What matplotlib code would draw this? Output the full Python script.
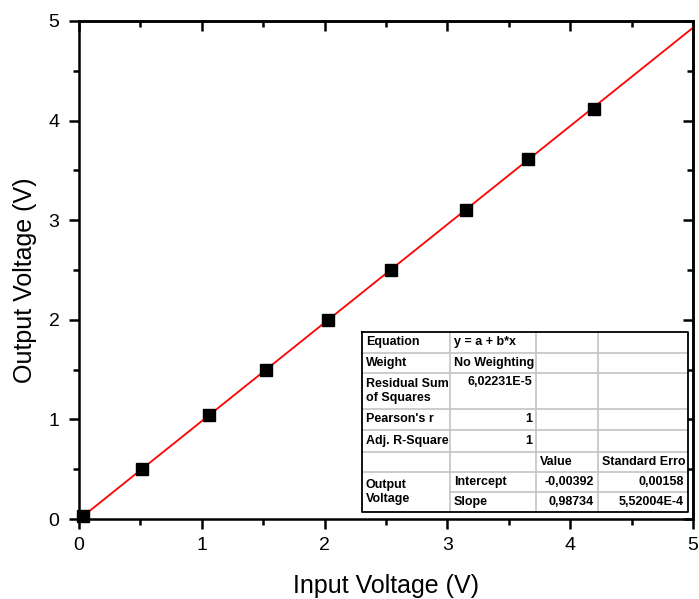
import numpy as np
import matplotlib
matplotlib.use('Agg')
import matplotlib.pyplot as plt
from matplotlib.lines import Line2D
from matplotlib.ticker import MultipleLocator

plt.rcParams['font.family'] = ['Liberation Sans', 'DejaVu Sans']

# measured points
x_in = [0.03, 0.51, 1.06, 1.52, 2.03, 2.54, 3.15, 3.66, 4.19]
y_out = [0.03, 0.50, 1.04, 1.50, 2.00, 2.50, 3.10, 3.61, 4.12]

# linear fit results
intercept = -0.00392
slope = 0.98734
fit_x = [0, 5]

table_rows = [
    ['Equation', 'y = a + b*x', '', ''],
    ['Weight', 'No Weighting', '', ''],
    ['Residual Sum\nof Squares', '6,02231E-5', '', ''],
    ["Pearson's r", '1', '', ''],
    ['Adj. R-Square', '1', '', ''],
    ['', '', 'Value', 'Standard Erro'],
    ['Output\nVoltage', 'Intercept', '-0,00392', '0,00158'],
    ['', 'Slope', '0,98734', '5,52004E-4'],
]

W, H = 699, 599
fig = plt.figure(figsize=(W / 100, H / 100), dpi=100)
ax = fig.add_axes([79 / W, 1 - 519 / H, (693 - 79) / W, (519 - 21) / H])

fx = np.array(fit_x, dtype=float)
ax.plot(fx, intercept + slope * fx, color='red', lw=1.3, zorder=2)
ax.plot(x_in, y_out, 's', color='black', ms=8.5, zorder=3, clip_on=False)

ax.set_xlim(0, 5)
ax.set_ylim(0, 5)
ax.xaxis.set_major_locator(MultipleLocator(1))
ax.xaxis.set_minor_locator(MultipleLocator(0.5))
ax.yaxis.set_major_locator(MultipleLocator(1))
ax.yaxis.set_minor_locator(MultipleLocator(0.5))
for s in ax.spines.values():
    s.set_linewidth(1.8)
ax.tick_params(which='both', direction='out', width=1.8, labelsize=14,
               top=False, right=False)
ax.tick_params(which='major', length=7)
ax.tick_params(which='minor', length=4)
ax.tick_params(axis='y', pad=7)
ax.tick_params(axis='x', pad=6)

# inward ticks on top/right
sec = ax.secondary_xaxis('top')
sec.xaxis.set_major_locator(MultipleLocator(1))
sec.xaxis.set_minor_locator(MultipleLocator(0.5))
sec.tick_params(which='both', direction='in', width=1.8, labeltop=False)
sec.tick_params(which='major', length=7)
sec.tick_params(which='minor', length=4)
sec.spines['top'].set_linewidth(1.8)
secy = ax.secondary_yaxis('right')
secy.yaxis.set_major_locator(MultipleLocator(1))
secy.yaxis.set_minor_locator(MultipleLocator(0.5))
secy.tick_params(which='both', direction='in', width=1.8, labelright=False)
secy.tick_params(which='major', length=7)
secy.tick_params(which='minor', length=4)
secy.spines['right'].set_linewidth(1.8)

ax.set_xlabel('Input Voltage (V)', fontsize=18, labelpad=14)
ax.set_ylabel('Output Voltage (V)', fontsize=18, labelpad=8)
ax.yaxis.label.set_y(0.48)


def fp(x, y):
    return x / W, 1 - y / H


# table geometry in pixels
cols = [362, 450, 536, 598, 688]
rows = [332, 353, 373, 409, 430, 452, 472, 492, 512]

fig.patches.append(plt.Rectangle(fp(cols[0], rows[-1]), (cols[-1] - cols[0]) / W,
                                 (rows[-1] - rows[0]) / H, transform=fig.transFigure,
                                 facecolor='white', edgecolor='none', zorder=4))
gray = '#c4c4c4'
for i, yv in enumerate(rows[1:-1], start=1):
    x0 = cols[1] if i == 7 else cols[0]
    fig.add_artist(Line2D([x0 / W, cols[-1] / W], [1 - yv / H] * 2, color=gray, lw=1.2, zorder=5))
for xv in cols[1:-1]:
    fig.add_artist(Line2D([xv / W] * 2, [1 - rows[0] / H, 1 - rows[-1] / H], color=gray, lw=1.2, zorder=5))
bx = [cols[0], cols[-1], cols[-1], cols[0], cols[0]]
by = [rows[0], rows[0], rows[-1], rows[-1], rows[0]]
fig.add_artist(Line2D([v / W for v in bx], [1 - v / H for v in by], color='black', lw=1.3, zorder=6))

right_cells = {(2, 1), (3, 1), (4, 1), (6, 2), (6, 3), (7, 2), (7, 3)}
for r, row in enumerate(table_rows):
    for c, txt in enumerate(row):
        if not txt:
            continue
        if r == 6 and c == 0:
            ytop, ybot = rows[6], rows[8]
        else:
            ytop, ybot = rows[r], rows[r + 1]
        yc = (ytop + ybot) / 2
        if r == 2 and c == 1:
            yc = ytop + 9
        if (r, c) in right_cells:
            xpos, ha = cols[c + 1] - 4, 'right'
        else:
            xpos, ha = cols[c] + 4, 'left'
        fig.text(*fp(xpos, yc), txt, ha=ha, va='center', fontsize=9,
                 fontweight='bold', linespacing=1.25, zorder=7)

fig.savefig('out.png', dpi=100)
